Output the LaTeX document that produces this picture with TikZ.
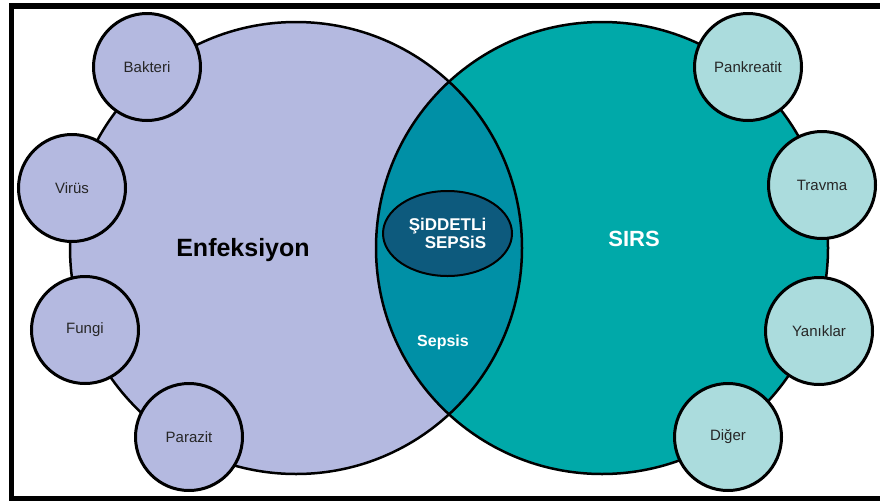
\documentclass[tikz,border=0pt]{standalone}
\usepackage{fontspec}
\setmainfont{Liberation Sans}
\usetikzlibrary{positioning,shapes.geometric}
\definecolor{enfcol}{HTML}{B4B9E0}
\definecolor{sirscol}{HTML}{00A9A9}
\definecolor{sirslight}{HTML}{ABDCDD}
\definecolor{sepsiscol}{HTML}{0090A6}
\definecolor{siddetcol}{HTML}{0D5A7D}
\begin{document}
\begin{tikzpicture}[x=1pt, y=-1pt,
    bigset/.style={circle, minimum size=452pt, inner sep=0pt},
    cause/.style={circle, draw, line width=3pt, minimum size=107pt, inner sep=0pt, font=\fontsize{15}{18}\selectfont, text=black!85},
    infect/.style={cause, fill=enfcol},
    trigger/.style={cause, fill=sirslight},
    bigtext/.style={font=\bfseries\fontsize{#1}{#1}\selectfont}]
    \useasboundingbox (0,0) rectangle (880,501);
    \draw[line width=5.5pt] (880,6) -- (11.5,6) -- (11.5,498.5) -- (880,498.5);
    \node[bigset, fill=enfcol] (enf) at (296,248) {};
    \node[bigset, fill=sirscol] (sirs) at (602,248) {};
    \begin{scope}
        \clip (enf.center) circle (226pt);
        \fill[sepsiscol] (sirs.center) circle (226pt);
    \end{scope}
    \draw[line width=2.5pt] (enf.center) circle (226pt);
    \draw[line width=2.5pt] (sirs.center) circle (226pt);
    \node[ellipse, draw, line width=2pt, fill=siddetcol, minimum width=129pt, minimum height=85pt, inner sep=0pt, text=white, align=right, bigtext=17] (siddet) at (447.5,233.5) {ŞiDDETLi\\[1pt]SEPSiS};
    \node[bigtext=25] (enftext) at (243,250) {Enfeksiyon};
    \node[bigtext=22, text=white] (sirstext) at (634,239) {SIRS};
    \node[bigtext=16, text=white] (sepsis) at (443,342) {Sepsis};
    % enfeksiyon nedenleri
    \node[infect] (bakteri) at (147,67) {Bakteri};
    \node[infect] (virus) at (72,188) {Virüs};
    \node[infect] (fungi) at (85,330) {Fungi};
    \node[infect] (parazit) at (189,437) {Parazit};
    % SIRS nedenleri
    \node[trigger] (pankreatit) at (748,67) {Pankreatit};
    \node[trigger] (travma) at (822,185) {Travma};
    \node[trigger] (yaniklar) at (819,331) {Yanıklar};
    \node[trigger] (diger) at (728,437) {Diğer};
\end{tikzpicture}
\end{document}
